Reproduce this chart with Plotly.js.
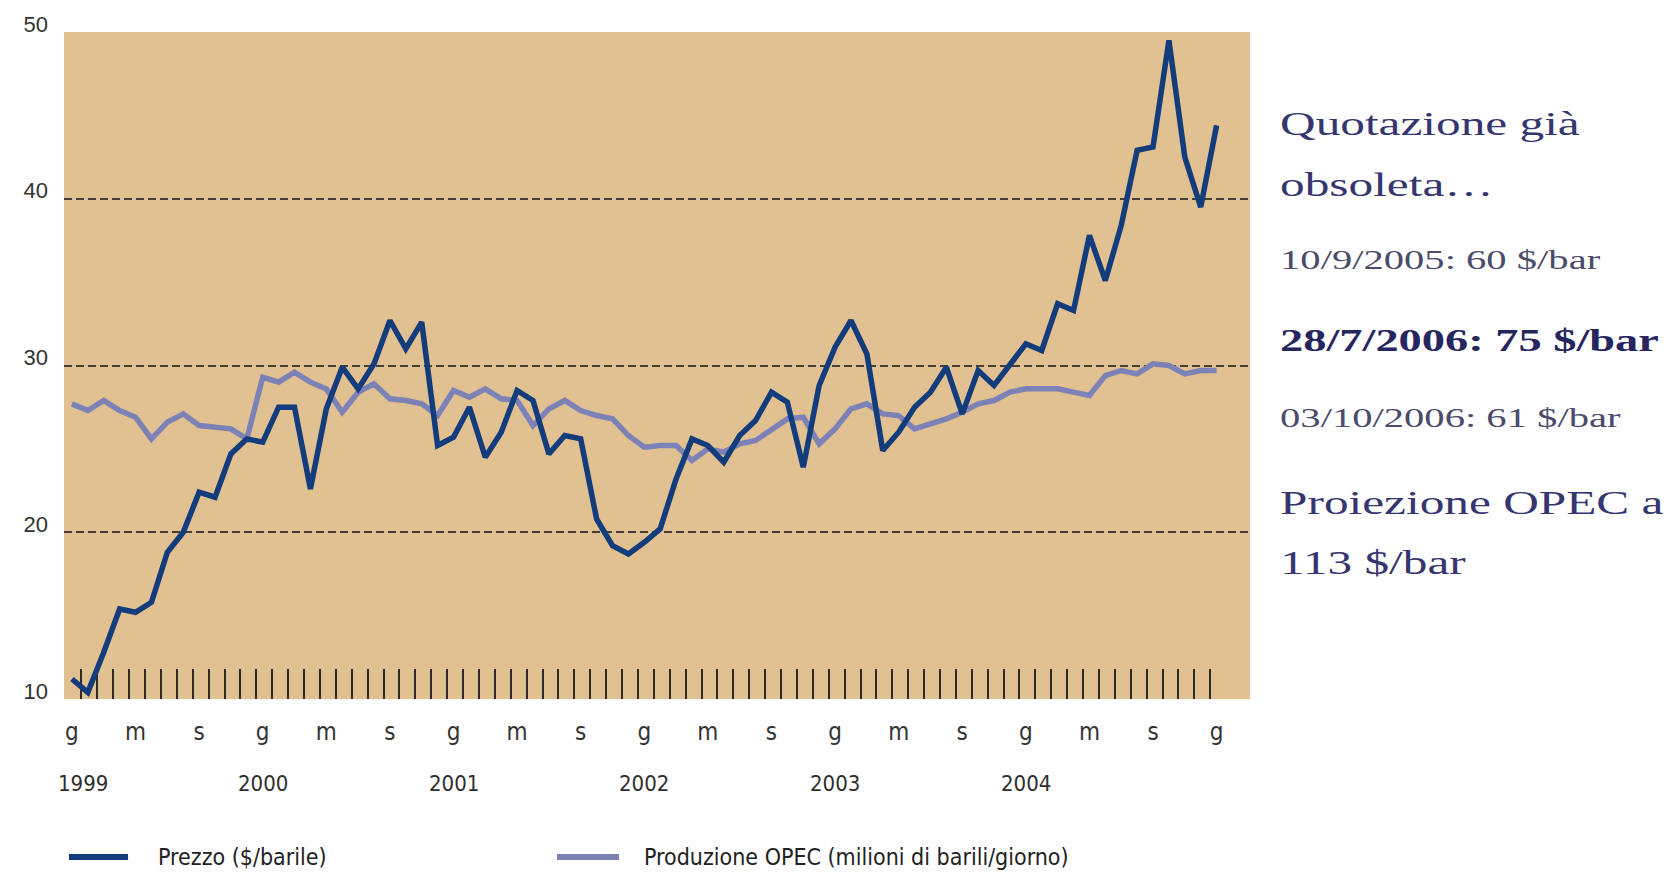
<!DOCTYPE html>
<html>
<head>
<meta charset="utf-8">
<script src="https://cdn.plot.ly/plotly-3.0.1.min.js"></script>
<style>
  html, body { margin: 0; padding: 0; background: #ffffff; }
  #chart { width: 1673px; height: 873px; }
</style>
</head>
<body>
<div id="chart"></div>
<script>
// Monthly observations, January 1999 to January 2005
const monthLabels = [];
for (let y = 1999; y <= 2005; y++) {
  for (let m = 1; m <= 12; m++) {
    if (monthLabels.length < 73) monthLabels.push(y + '-' + String(m).padStart(2, '0'));
  }
}
const monthIndex = monthLabels.map((_, i) => i);

// Prezzo ($/barile)
const price = [
  11.2, 10.4, 12.8, 15.4, 15.2, 15.8, 18.8, 20.0, 22.4, 22.1, 24.7, 25.6,
  25.4, 27.5, 27.5, 22.6, 27.4, 29.9, 28.6, 30.1, 32.7, 31.0, 32.6, 25.2,
  25.7, 27.5, 24.5, 26.0, 28.5, 27.9, 24.7, 25.8, 25.6, 20.8, 19.2, 18.7,
  19.4, 20.2, 23.2, 25.6, 25.2, 24.2, 25.8, 26.7, 28.4, 27.8, 23.9, 28.8,
  31.1, 32.7, 30.7, 24.9, 26.0, 27.5, 28.4, 29.9, 27.1, 29.7, 28.8, 30.1,
  31.3, 30.9, 33.7, 33.3, 37.8, 35.1, 38.4, 42.9, 43.1, 49.5, 42.5, 39.5,
  44.4
];

// Produzione OPEC (milioni di barili/giorno)
const opec = [
  27.7, 27.3, 27.9, 27.3, 26.9, 25.6, 26.6, 27.1, 26.4, 26.3, 26.2, 25.6,
  29.3, 29.0, 29.6, 29.0, 28.6, 27.2, 28.4, 28.9, 28.0, 27.9, 27.7, 27.0,
  28.5, 28.1, 28.6, 28.0, 27.9, 26.4, 27.4, 27.9, 27.3, 27.0, 26.8, 25.8,
  25.1, 25.2, 25.2, 24.3, 25.0, 24.8, 25.3, 25.5, 26.2, 26.8, 26.9, 25.3,
  26.2, 27.4, 27.7, 27.1, 27.0, 26.2, 26.5, 26.8, 27.2, 27.7, 27.9, 28.4,
  28.6, 28.6, 28.6, 28.4, 28.2, 29.4, 29.7, 29.5, 30.1, 30.0, 29.5, 29.7,
  29.7
];

const seriesNames = ['Prezzo ($/barile)', 'Produzione OPEC (milioni di barili/giorno)'];
const seriesColors = ['#123c7b', '#7c82b6'];

// Month initials every four months (gennaio, maggio, settembre)
const labelMonths = [0, 4, 8, 12, 16, 20, 24, 28, 32, 36, 40, 44, 48, 52, 56, 60, 64, 68, 72];
const labelText = ['g', 'm', 's', 'g', 'm', 's', 'g', 'm', 's', 'g', 'm', 's', 'g', 'm', 's', 'g', 'm', 's', 'g'];

const years = ['1999', '2000', '2001', '2002', '2003', '2004'];
const yearMonths = [0, 12, 24, 36, 48, 60];

const yTicks = [10, 20, 30, 40, 50];
const yGrid = [20, 30, 40];

// Notes beside the chart
const sideText = [
  'Quotazione già',
  'obsoleta…',
  '10/9/2005: 60 $/bar',
  '<b>28/7/2006: 75 $/bar</b>',
  '03/10/2006: 61 $/bar',
  'Proiezione OPEC a',
  '113 $/bar'
];
const sideY = [0.8628, 0.7715, 0.6594, 0.5375, 0.4224, 0.2948, 0.2049];
const sideSize = [34, 34, 28, 32, 28, 34, 34];
const sideColor = ['#35356f', '#35356f', '#4b4b6c', '#26265e', '#4b4b6c', '#35356f', '#35356f'];
const SIDE_STRETCH = 1.45;

// Small monthly marks along the bottom of the plot, between the observations
const monthMarks = [];
for (let i = 0; i < 72; i++) monthMarks.push(i + 0.6);

const xRange = [-0.5, 74.1];
const yRange = [10, 50];

const traces = [
  {
    x: monthIndex, y: opec, xaxis: 'x', yaxis: 'y',
    type: 'scatter', mode: 'lines',
    name: seriesNames[1],
    line: { color: seriesColors[1], width: 5.5 },
    hoverinfo: 'skip', showlegend: false
  },
  {
    x: monthIndex, y: price, xaxis: 'x2', yaxis: 'y2',
    type: 'scatter', mode: 'lines',
    name: seriesNames[0],
    line: { color: seriesColors[0], width: 5.5 },
    hoverinfo: 'skip', showlegend: false
  }
];

const annotations = sideText.map((t, k) => ({
  xref: 'paper', yref: 'paper', x: 1.0236, y: sideY[k],
  xanchor: 'left', yanchor: 'middle', showarrow: false,
  text: t,
  font: { family: '"Liberation Serif", "DejaVu Serif", serif', size: sideSize[k], color: sideColor[k] }
}));

years.forEach((yr, k) => {
  annotations.push({
    xref: 'x', yref: 'paper', x: yearMonths[k], y: -0.1274,
    xanchor: 'center', yanchor: 'middle', showarrow: false,
    xshift: k === 0 ? 11 : 0,
    text: yr,
    font: { family: '"DejaVu Sans Condensed", "Liberation Sans Narrow", sans-serif', size: 22, color: '#2e2e2e' }
  });
});

// Key below the chart: a short colour bar followed by the series name
const keySwatchX = [[0.0042, 0.054], [0.4157, 0.468]];
const keyTextX = [0.0776, 0.4874];
const keyY = -0.2369;
const shapes = [];
seriesNames.forEach((name, k) => {
  shapes.push({
    type: 'line', xref: 'paper', yref: 'paper',
    x0: keySwatchX[k][0], x1: keySwatchX[k][1], y0: keyY, y1: keyY,
    line: { color: seriesColors[k], width: 6 }
  });
  annotations.push({
    xref: 'paper', yref: 'paper', x: keyTextX[k], y: keyY,
    xanchor: 'left', yanchor: 'middle', showarrow: false,
    text: name,
    font: { family: '"DejaVu Sans Condensed", "Liberation Sans Narrow", sans-serif', size: 23, color: '#222222' }
  });
});

const layout = {
  width: 1673, height: 873,
  margin: { l: 64, r: 423, t: 32, b: 174, pad: 0, autoexpand: false },
  paper_bgcolor: '#ffffff',
  plot_bgcolor: '#e1c192',
  showlegend: false,
  xaxis: {
    range: xRange, tickmode: 'array', tickvals: monthMarks,
    ticks: 'inside', ticklen: 30, tickwidth: 2, tickcolor: '#2b2b2b',
    showticklabels: false, showgrid: false, zeroline: false, showline: false,
    layer: 'below traces', fixedrange: true
  },
  xaxis2: {
    overlaying: 'x', anchor: 'y', side: 'bottom',
    range: xRange, tickmode: 'array', tickvals: labelMonths, ticktext: labelText,
    ticks: '', showgrid: false, zeroline: false, showline: false,
    ticklabelstandoff: 16,
    tickfont: { family: '"Liberation Sans Narrow", "DejaVu Sans Condensed", sans-serif', size: 24, color: '#333333' },
    fixedrange: true
  },
  yaxis: {
    range: yRange, tickmode: 'array', tickvals: yTicks,
    ticks: '', showgrid: false, zeroline: false, showline: false,
    ticklabelstandoff: 15, ticklabelshift: -8,
    tickfont: { family: '"Liberation Sans", Arial, sans-serif', size: 22, color: '#333333' },
    fixedrange: true
  },
  yaxis2: {
    overlaying: 'y', anchor: 'x', side: 'left',
    range: yRange, tickmode: 'array', tickvals: yGrid,
    showticklabels: false, ticks: '',
    showgrid: true, gridcolor: 'rgba(40,40,40,0.85)', gridwidth: 2, griddash: '8px,4px',
    zeroline: false, showline: false, fixedrange: true
  },
  shapes: shapes,
  annotations: annotations
};

// Widen the serif notes horizontally, keeping their left edge in place
function stretchSideText() {
  document.querySelectorAll('#chart .annotation').forEach(g => {
    const idx = Number(g.getAttribute('data-index'));
    if (!(idx < sideText.length)) return;
    const t = g.querySelector('text.annotation-text');
    if (!t) return;
    t.removeAttribute('transform');
    const b = t.getBBox();
    const x0 = b.x;
    t.setAttribute('transform', 'translate(' + x0 + ' 0) scale(' + SIDE_STRETCH + ' 1) translate(' + (-x0) + ' 0)');
  });
}

const chart = document.getElementById('chart');
Plotly.newPlot(chart, traces, layout, { displayModeBar: false, staticPlot: true }).then(() => {
  stretchSideText();
  chart.on('plotly_afterplot', stretchSideText);
});
</script>
</body>
</html>
